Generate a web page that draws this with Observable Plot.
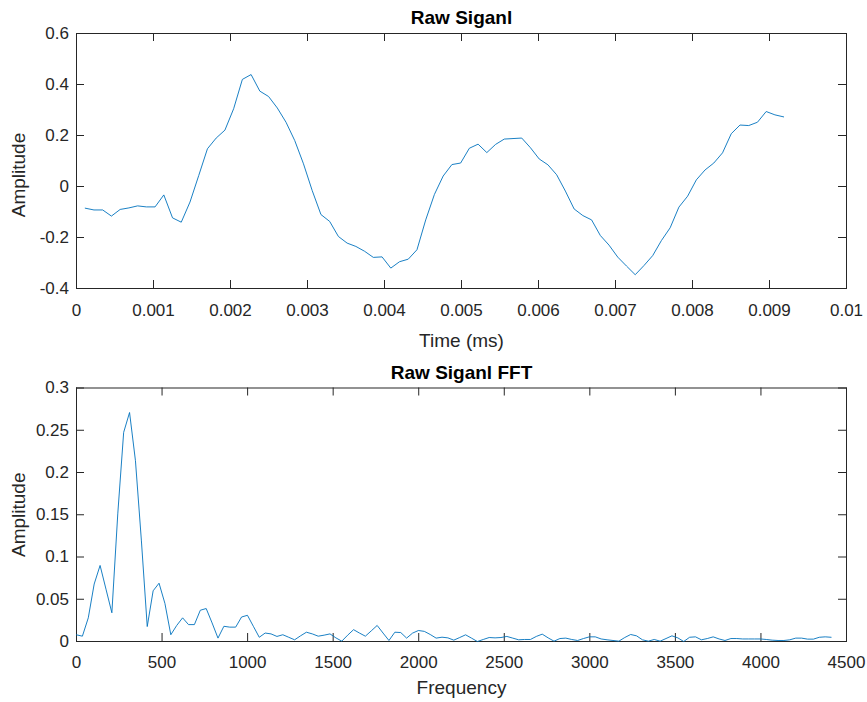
<!DOCTYPE html>
<html>
<head>
<meta charset="utf-8">
<script src="https://cdn.jsdelivr.net/npm/d3@7"></script>
<script src="https://cdn.jsdelivr.net/npm/@observablehq/plot@0.6"></script>
<style>
  html, body { margin: 0; padding: 0; background: #fff; }
  #chart { width: 867px; }
  #chart svg { display: block; }
</style>
</head>
<body>
<div id="chart"></div>
<script>
// ---- data ----
const sampleRate = 8820;      // Hz
const fftSize = 256;

const signal = [
  -0.085,-0.092,-0.092,-0.116,-0.090,-0.084,-0.076,-0.080,-0.080,-0.033,
  -0.123,-0.140,-0.061,0.043,0.148,0.190,0.221,0.305,0.420,0.439,
  0.374,0.353,0.308,0.252,0.180,0.089,-0.016,-0.110,-0.137,-0.196,
  -0.222,-0.235,-0.254,-0.278,-0.276,-0.320,-0.295,-0.285,-0.248,-0.131,
  -0.031,0.041,0.086,0.092,0.150,0.166,0.133,0.165,0.186,0.188,
  0.190,0.152,0.108,0.085,0.046,-0.018,-0.088,-0.114,-0.131,-0.192,
  -0.230,-0.277,-0.312,-0.346,-0.310,-0.271,-0.212,-0.162,-0.081,-0.038,
  0.026,0.065,0.092,0.132,0.207,0.241,0.239,0.252,0.294,0.281,
  0.273
];

const spectrum = [
  0.0079,0.0063,0.028,0.068,0.090,0.062,0.034,0.151,0.2475,0.271,
  0.214,0.120,0.0177,0.060,0.069,0.045,0.008,0.019,0.028,0.020,
  0.020,0.037,0.039,0.022,0.004,0.018,0.017,0.017,0.029,0.031,
  0.018,0.005,0.010,0.009,0.006,0.008,0.005,0.002,0.0067,0.011,
  0.009,0.0063,0.0075,0.009,0.0043,0.0004,0.0075,0.014,0.010,0.0063,
  0.0126,0.019,0.010,0.0012,0.011,0.0106,0.004,0.0099,0.013,0.012,
  0.0083,0.004,0.0051,0.0043,0.0016,0.0047,0.0079,0.004,0.0,0.0024,
  0.0047,0.0043,0.0047,0.006,0.004,0.002,0.0024,0.0024,0.006,0.0087,
  0.0043,0.0004,0.0035,0.004,0.0024,0.0012,0.0035,0.0055,0.0055,0.003,
  0.002,0.0012,0.0004,0.0047,0.0083,0.0067,0.002,0.0004,0.0024,0.0004,
  0.0035,0.0067,0.0043,0.0,0.005,0.0055,0.002,0.0035,0.0055,0.003,
  0.0012,0.0035,0.0035,0.003,0.003,0.003,0.003,0.0024,0.0016,0.0012,
  0.0012,0.002,0.004,0.004,0.0028,0.0028,0.005,0.0055,0.005
];

const timeTicks = [0,0.001,0.002,0.003,0.004,0.005,0.006,0.007,0.008,0.009,0.01];
const ampTicks = [-0.4,-0.2,0,0.2,0.4,0.6];
const freqTicks = [0,500,1000,1500,2000,2500,3000,3500,4000,4500];
const fftAmpTicks = [0,0.05,0.1,0.15,0.2,0.25,0.3];

const titles = ["Raw Siganl", "Raw Siganl FFT"];
const xLabels = ["Time (ms)", "Frequency"];
const yLabel = "Amplitude";

// ---- build tables ----
const sigData = signal.map((v, i) => ({t: (i + 1) / sampleRate, v}));
const fftData = spectrum.map((v, k) => ({f: k * sampleRate / fftSize, v}));

const FONT = "'Liberation Sans', Arial, Helvetica, sans-serif";
const AX = "#262626";
const LINE = "#0072BD";
const W = 867, ML = 76, MR = 21;
const TICK = 8;

function panel({data, x, xDomain, xTicks, yDomain, yTicks, height, mt, mb, title, xLabel, xPad, labelOffset, yLabelDy}) {
  const fw = W - ML - MR;
  const fh = height - mt - mb;
  const fmt = d => String(d);
  return Plot.plot({
    width: W, height,
    marginLeft: ML, marginRight: MR, marginTop: mt, marginBottom: mb,
    style: {fontFamily: FONT, fontSize: "17px", color: AX, background: "#fff", overflow: "visible"},
    x: {domain: xDomain, ticks: xTicks, tickSize: 0, tickPadding: xPad, tickFormat: fmt, label: null},
    y: {domain: yDomain, ticks: yTicks, tickSize: 0, tickPadding: 7.5, tickFormat: fmt, label: null},
    marks: [
      Plot.frame({stroke: AX, strokeWidth: 1}),
      Plot.tickX(xTicks, {x: d => d, stroke: AX, insetTop: fh - TICK}),
      Plot.tickX(xTicks, {x: d => d, stroke: AX, insetBottom: fh - TICK}),
      Plot.tickY(yTicks, {y: d => d, stroke: AX, insetRight: fw - TICK}),
      Plot.tickY(yTicks, {y: d => d, stroke: AX, insetLeft: fw - TICK}),
      Plot.line(data, {x, y: "v", stroke: LINE, strokeWidth: 0.9}),
      Plot.text([title], {frameAnchor: "top", lineAnchor: "bottom", dy: -9.5, fontWeight: "bold", fontSize: 19, fill: "#000", fontFamily: FONT}),
      Plot.text([xLabel], {frameAnchor: "bottom", lineAnchor: "bottom", dy: labelOffset, fontSize: 19, fill: AX, fontFamily: FONT}),
      Plot.text([yLabel], {frameAnchor: "left", textAnchor: "middle", lineAnchor: "bottom", rotate: -90, dx: -52, dy: yLabelDy, fontSize: 19, fill: AX, fontFamily: FONT})
    ]
  });
}

const chart = document.getElementById("chart");
chart.appendChild(panel({
  data: sigData, x: "t", xDomain: [0, 0.01], xTicks: timeTicks,
  yDomain: [-0.4, 0.6], yTicks: ampTicks,
  height: 350, mt: 33, mb: 62, title: titles[0], xLabel: xLabels[0], xPad: 15, labelOffset: 58, yLabelDy: 14
}));
chart.appendChild(panel({
  data: fftData, x: "f", xDomain: [0, 4500], xTicks: freqTicks,
  yDomain: [0, 0.3], yTicks: fftAmpTicks,
  height: 352, mt: 37.5, mb: 61, title: titles[1], xLabel: xLabels[1], xPad: 14, labelOffset: 52, yLabelDy: 0
}));
</script>
</body>
</html>
